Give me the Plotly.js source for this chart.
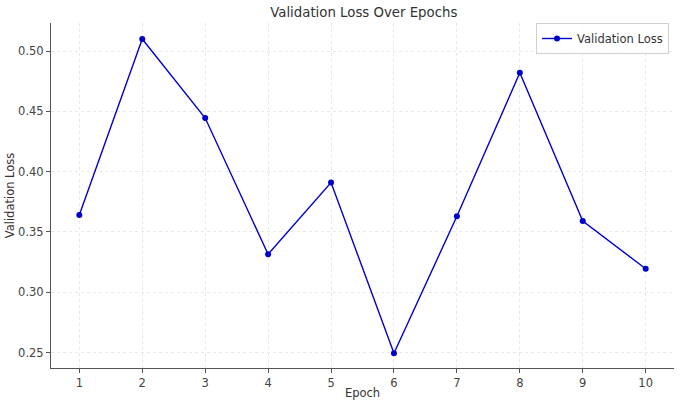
<!DOCTYPE html>
<html>
<head>
<meta charset="utf-8">
<script src="https://cdn.plot.ly/plotly-3.0.1.min.js"></script>
<style>
  html, body { margin: 0; padding: 0; background: #fff; }
  #chart { width: 680px; height: 405px; }
</style>
</head>
<body>
<div id="chart"></div>
<script>
const epochs = [1, 2, 3, 4, 5, 6, 7, 8, 9, 10];
const valLoss = [0.364, 0.510, 0.4445, 0.3315, 0.391, 0.2495, 0.363, 0.482, 0.359, 0.3195];
const yTicks = [0.25, 0.30, 0.35, 0.40, 0.45, 0.50];

const traces = [
  {
    x: epochs,
    y: valLoss,
    type: 'scatter',
    mode: 'lines+markers',
    name: 'Validation Loss',
    line: { color: '#0000cc', width: 1.4 },
    marker: { color: '#0000cc', size: 6 },
  },
];

const gridStyle = {
  showgrid: true,
  gridcolor: '#e2e2e2',
  griddash: 'dot',
  gridwidth: 0.8,
  zeroline: false,
  showline: true,
  linecolor: '#555',
  linewidth: 1,
  ticks: 'outside',
  ticklen: 4,
  tickcolor: '#555',
  tickfont: { family: 'DejaVu Sans', size: 11.5, color: '#444' },
};

const layout = {
  width: 680,
  height: 405,
  margin: { l: 51, r: 6, t: 23, b: 37 },
  paper_bgcolor: '#fff',
  plot_bgcolor: '#fff',
  font: { family: 'DejaVu Sans', color: '#333' },
  title: {
    text: 'Validation Loss Over Epochs',
    font: { family: 'DejaVu Sans', size: 13.3, color: '#333' },
    x: 0.535,
    xanchor: 'center',
    y: 0.97,
    yanchor: 'middle',
  },
  xaxis: Object.assign({}, gridStyle, {
    range: [0.55, 10.45],
    tickvals: epochs,
    title: { text: 'Epoch', font: { family: 'DejaVu Sans', size: 11.5, color: '#333' }, standoff: 0 },
  }),
  yaxis: Object.assign({}, gridStyle, {
    range: [0.2372, 0.5233],
    tickvals: yTicks,
    tickformat: '.2f',
    title: { text: 'Validation Loss', font: { family: 'DejaVu Sans', size: 11.5, color: '#333' }, standoff: 1 },
  }),
  showlegend: true,
  legend: {
    x: 0.992,
    y: 1.0,
    xanchor: 'right',
    yanchor: 'top',
    bgcolor: 'rgba(255,255,255,0.8)',
    bordercolor: '#d0d0d0',
    borderwidth: 1,
    font: { family: 'DejaVu Sans', size: 11.5, color: '#333' },
    tracegroupgap: 0,
    itemwidth: 30,
  },
};

Plotly.newPlot('chart', traces, layout, { displayModeBar: false, staticPlot: true });
</script>
</body>
</html>
